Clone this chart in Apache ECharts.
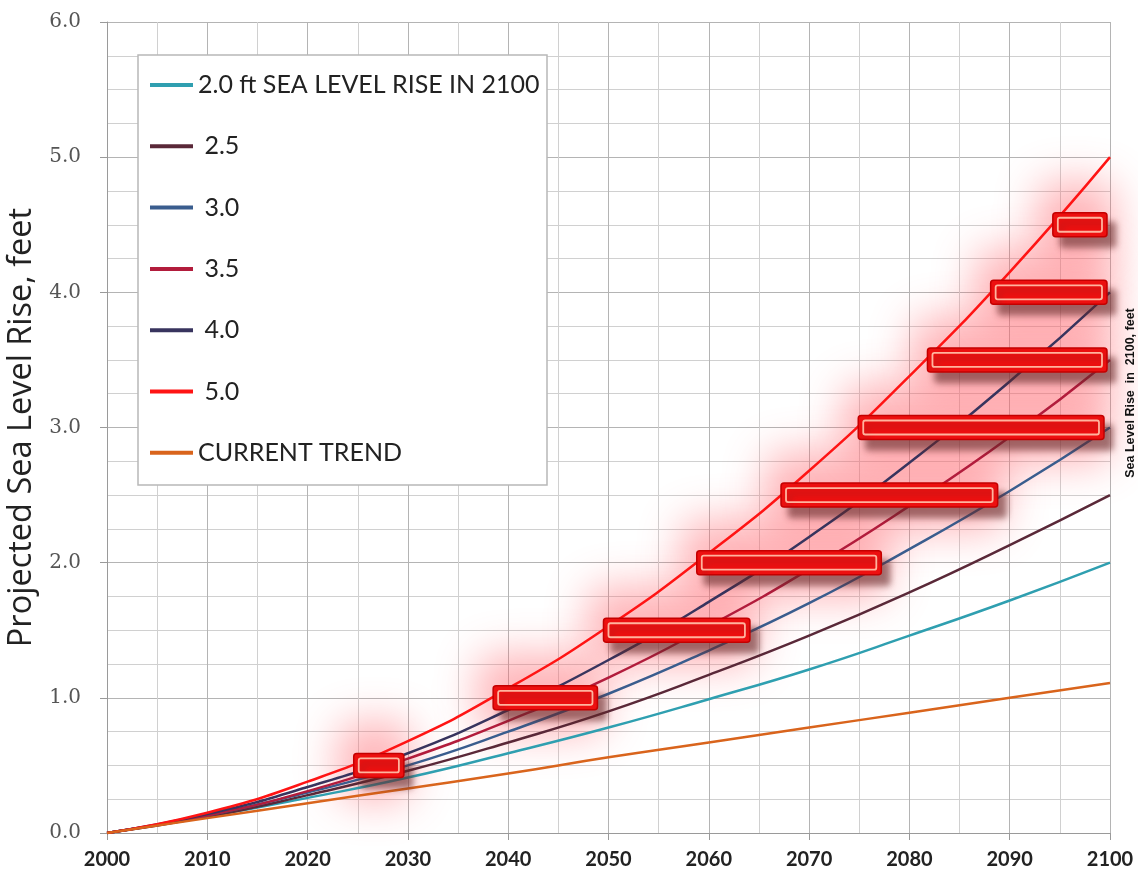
<!DOCTYPE html>
<html>
<head>
<meta charset="utf-8">
<script src="https://cdn.jsdelivr.net/npm/echarts@6/dist/echarts.min.js"></script>
<style>
html,body{margin:0;padding:0;background:#fff;}
#chart{width:1138px;height:887px;}
</style>
</head>
<body>
<div id="chart"></div>
<script>
// ---- data ----
const years = [2000, 2010, 2020, 2030, 2040, 2050, 2060, 2070, 2080, 2090, 2100];
const rise20 = [0, 0.12, 0.26, 0.41, 0.59, 0.78, 0.99, 1.21, 1.46, 1.72, 2.00];
const rise25 = [0, 0.12, 0.28, 0.46, 0.67, 0.90, 1.17, 1.46, 1.78, 2.13, 2.50];
const rise30 = [0, 0.13, 0.30, 0.50, 0.75, 1.03, 1.35, 1.70, 2.10, 2.53, 3.00];
const rise35 = [0, 0.13, 0.31, 0.55, 0.83, 1.15, 1.53, 1.95, 2.42, 2.93, 3.50];
const rise40 = [0, 0.14, 0.34, 0.59, 0.91, 1.28, 1.71, 2.19, 2.74, 3.34, 4.00];
const rise50 = [0, 0.15, 0.38, 0.68, 1.07, 1.53, 2.07, 2.68, 3.38, 4.15, 5.00];
const currentTrend = [0, 0.11, 0.22, 0.33, 0.44, 0.56, 0.67, 0.78, 0.89, 1.00, 1.11];

const seriesNames = ['2.0 ft SEA LEVEL RISE IN 2100', '2.5', '3.0', '3.5', '4.0', '5.0', 'CURRENT TREND'];
const seriesColors = ['#2f9fb0', '#5a2838', '#3a5d8e', '#b21c3c', '#38345e', '#ff1414', '#d9641c'];
const seriesValues = [rise20, rise25, rise30, rise35, rise40, rise50, currentTrend];

// highlighted bars: sea level reached (ft) and the span of years
const barLevels = [0.5, 1.0, 1.5, 2.0, 2.5, 3.0, 3.5, 4.0, 4.5];
const barStart  = [2024.6, 2038.5, 2049.5, 2058.8, 2067.2, 2074.9, 2081.8, 2088.1, 2094.3];
const barEnd    = [2029.6, 2048.9, 2064.1, 2077.2, 2088.8, 2099.4, 2099.7, 2099.7, 2099.7];

const yTitle = 'Projected Sea Level Rise, feet';
const rightNote = 'Sea Level Rise  in  2100, feet';

// ---- chart ----
const chart = echarts.init(document.getElementById('chart'), null, {renderer: 'canvas'});

const lineSeries = seriesNames.map((name, i) => ({
  name: name,
  type: 'line',
  smooth: true,
  symbol: 'none',
  z: 3,
  lineStyle: {color: seriesColors[i], width: 2.5},
  itemStyle: {color: seriesColors[i]},
  data: years.map((y, k) => [y, seriesValues[i][k]])
}));

const barData = barLevels.map((lv, i) => [barStart[i], barEnd[i], lv]);
const OFF = 3000; // draw glow shape off-canvas, keep only its blurred shadow

const glowSeries = {
  type: 'custom',
  name: 'glow',
  z: 2,
  silent: true,
  data: barData,
  encode: {x: [0, 1], y: 2},
  renderItem: function (params, api) {
    const p0 = api.coord([api.value(0), api.value(2)]);
    const p1 = api.coord([api.value(1), api.value(2)]);
    const h = 24;
    const x = p0[0], y = p0[1] - h / 2, w = p1[0] - p0[0];
    return {
      type: 'rect',
      shape: {x: x - 16 - OFF, y: y - 32, width: w + 24, height: h + 56, r: 20},
      style: {
        fill: '#ff0000',
        shadowBlur: 42, shadowOffsetX: OFF, shadowOffsetY: 0,
        shadowColor: 'rgba(255,90,100,0.45)'
      }
    };
  }
};

const barSeries = {
  type: 'custom',
  name: 'bars',
  z: 5,
  silent: true,
  data: barData,
  encode: {x: [0, 1], y: 2},
  renderItem: function (params, api) {
    const p0 = api.coord([api.value(0), api.value(2)]);
    const p1 = api.coord([api.value(1), api.value(2)]);
    const h = 24;
    const x = p0[0], y = p0[1] - h / 2, w = p1[0] - p0[0];
    return {
      type: 'group',
      children: [
        { // main bar with drop shadow
          type: 'rect',
          shape: {x: x, y: y, width: w, height: h, r: 3},
          style: {
            fill: '#ee1010', stroke: '#c40000', lineWidth: 1.5,
            shadowBlur: 6, shadowOffsetX: 8, shadowOffsetY: 10, shadowColor: 'rgba(100,40,40,0.6)'
          }
        },
        { // inner highlight frame
          type: 'rect',
          shape: {x: x + 5, y: y + 5, width: Math.max(w - 10, 2), height: h - 10, r: 2},
          style: {fill: 'none', stroke: '#ffb49e', lineWidth: 1.8}
        }
      ]
    };
  }
};

const option = {
  animation: false,
  backgroundColor: '#ffffff',
  grid: {left: 107, right: 28, top: 22, bottom: 54, containLabel: false, outerBoundsMode: 'none'},
  xAxis: {
    type: 'value',
    min: 2000, max: 2100, interval: 10,
    axisLine: {show: true, lineStyle: {color: '#9a9a9a', width: 1}},
    axisTick: {show: true, length: 7, lineStyle: {color: '#9a9a9a'}},
    axisLabel: {
      formatter: v => String(v), margin: 17,
      fontFamily: 'Lato', fontWeight: 'bold', fontSize: 20, color: '#222'
    },
    splitLine: {show: true, lineStyle: {color: '#b4b4b4', width: 1}},
    minorTick: {show: true, splitNumber: 2, length: 0},
    minorSplitLine: {show: true, lineStyle: {color: '#d0d0d0', width: 1}}
  },
  yAxis: {
    type: 'value',
    min: 0, max: 6, interval: 1,
    name: yTitle,
    nameLocation: 'middle',
    nameGap: 69,
    nameTextStyle: {fontFamily: 'Open Sans', fontSize: 32.5, color: '#222'},
    axisLine: {show: true, lineStyle: {color: '#9a9a9a', width: 1}},
    axisTick: {show: true, length: 7, lineStyle: {color: '#9a9a9a'}},
    axisLabel: {
      formatter: v => v.toFixed(1), margin: 26,
      fontFamily: 'DejaVu Serif', fontSize: 20, color: '#555'
    },
    splitLine: {show: true, lineStyle: {color: '#b4b4b4', width: 1}},
    minorTick: {show: true, splitNumber: 4, length: 0},
    minorSplitLine: {show: true, lineStyle: {color: '#d0d0d0', width: 1}}
  },
  legend: {
    orient: 'vertical',
    left: 145, top: 67,
    itemWidth: 43, itemHeight: 4, itemGap: 35.3,
    icon: 'rect',
    z: 6,
    data: seriesNames,
    formatter: name => (/^\d\.\d$/.test(name) ? ' ' + name : name),
    textStyle: {fontFamily: 'Lato', fontSize: 25, color: '#222', lineHeight: 26, padding: [0, 0, 0, 0]}
  },
  graphic: [
    {
      type: 'rect', z: 4,
      shape: {x: 138, y: 55, width: 409, height: 430},
      style: {fill: '#ffffff', stroke: '#b8b8b8', lineWidth: 1.5}
    },
    {
      type: 'text', z: 6,
      x: 1131, y: 393, rotation: Math.PI / 2,
      style: {
        text: rightNote, fontFamily: 'Liberation Sans', fontWeight: 'bold', fontSize: 12.5,
        fill: '#111', align: 'center', verticalAlign: 'middle'
      }
    }
  ],
  series: lineSeries.concat([glowSeries, barSeries])
};

chart.setOption(option);
</script>
</body>
</html>
